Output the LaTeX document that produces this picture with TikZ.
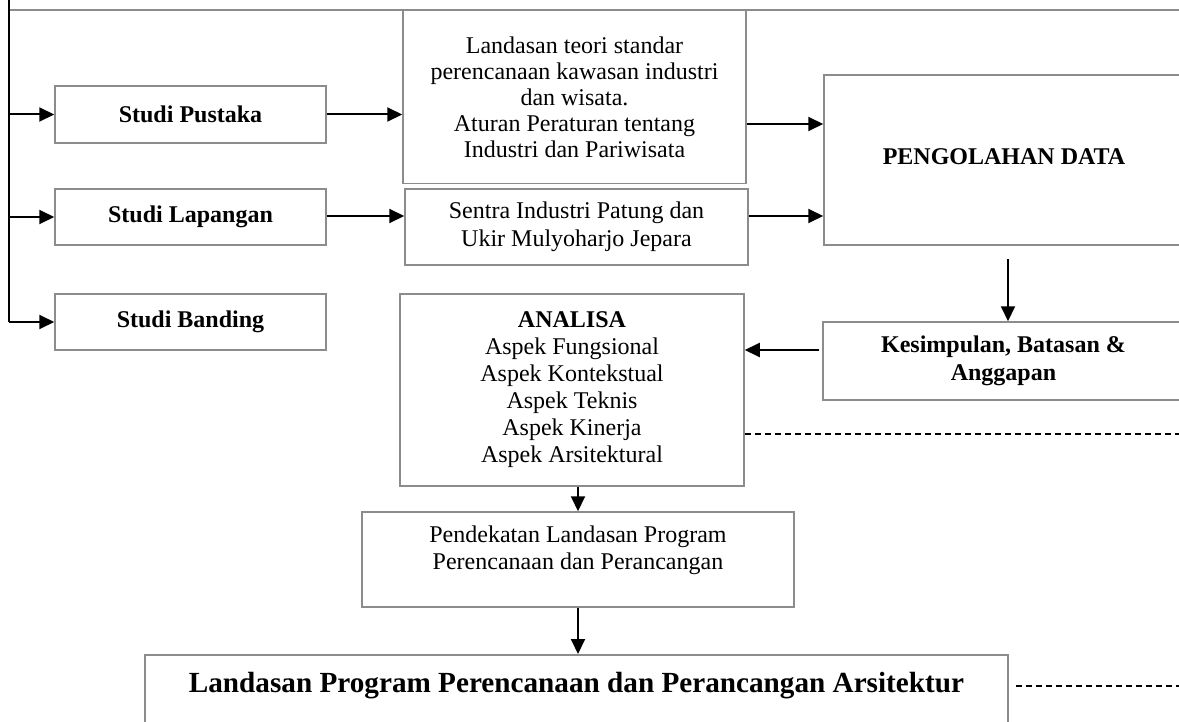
\documentclass[tikz,border=0pt]{standalone}
\usepackage{fontspec}
\setmainfont{Liberation Serif}
\usetikzlibrary{arrows.meta}
\definecolor{boxgray}{gray}{0.55}

\begin{document}
\begin{tikzpicture}[x=0.5pt, y=-0.5pt,
  box/.style={draw=boxgray, line width=0.75pt, align=center, inner sep=2pt,
    font=\fontsize{12}{13.5}\selectfont},
  boldbox/.style={box, font=\fontsize{12}{13.8}\selectfont\bfseries},
  flow/.style={-{Triangle[length=7.5pt,width=7pt]}, line width=1pt},
  guide/.style={dash pattern=on 3pt off 2pt, line width=0.6pt}]
% page frame
\useasboundingbox (0,0) rectangle (1179,722);
\clip (0,0) rectangle (1179,722);
% helper levels for the arrows
\coordinate (bustop) at (9,0);
\coordinate (rimleft) at (9,10);
\coordinate (edge) at (1179,10);
\coordinate (rowteori) at (0,124);
\coordinate (rowsentra) at (0,216);
\coordinate (rowsimpul) at (0,350);
\coordinate (rowdash) at (0,434);
\coordinate (olahout) at (1008,259);
\coordinate (progtail) at (1016,686);
% top rim
\draw[draw=boxgray, line width=0.75pt] (rimleft) -- (edge);
% studies on the left
\node[boldbox, minimum width=135.5pt, minimum height=28.5pt] (pustaka) at (190.5,114.5) {Studi Pustaka};
\node[boldbox, minimum width=135.5pt, minimum height=28pt] (lapangan) at (190.5,217) {Studi Lapangan};
\node[boldbox, minimum width=135.5pt, minimum height=28pt] (banding) at (190.5,322) {Studi Banding};
% sources in the middle
\node[box, font=\fontsize{12}{13}\selectfont, minimum width=171.5pt, minimum height=86.5pt] (teori) at (574.5,97)
  {Landasan teori standar\\perencanaan kawasan industri\\dan wisata.\\Aturan Peraturan tentang\\Industri dan Pariwisata};
\node[box, font=\fontsize{12}{14}\selectfont, minimum width=171.5pt, minimum height=38pt] (sentra) at (576.5,227)
  {Sentra Industri Patung dan\\Ukir Mulyoharjo Jepara};
% processing on the right
\node[boldbox, minimum width=180pt, minimum height=85pt, text depth=3pt] (olah) at (1004,160) {PENGOLAHAN DATA};
\node[boldbox, minimum width=180.5pt, minimum height=39pt] (simpul) at (1003.5,361) {Kesimpulan, Batasan \&\\Anggapan};
% analysis and results
\node[box, minimum width=172pt, minimum height=96pt] (analisa) at (572,390)
  {\textbf{ANALISA}\\Aspek Fungsional\\Aspek Kontekstual\\Aspek Teknis\\Aspek Kinerja\\Aspek Arsitektural};
\node[box, font=\fontsize{12}{13.8}\selectfont, minimum width=216pt, minimum height=47.5pt, text depth=12pt] (dekat) at (578,559.5)
  {Pendekatan Landasan Program\\Perencanaan dan Perancangan};
\node[boldbox, font=\fontsize{14.6}{16}\selectfont\bfseries, anchor=north, minimum width=431.5pt, minimum height=50pt,
  text height=10pt, text depth=22.5pt] (prog) at (576.5,654) {Landasan Program Perencanaan dan Perancangan Arsitektur};
% branching bus
\draw[line width=1pt] (bustop) -- (bustop |- banding);
\draw[flow] (bustop |- pustaka) -- (pustaka);
\draw[flow] (bustop |- lapangan) -- (lapangan);
\draw[flow] (bustop |- banding) -- (banding);
% flow between boxes
\draw[flow] (pustaka) -- (teori.west |- pustaka);
\draw[flow] (lapangan.east |- rowsentra) -- (sentra.west |- rowsentra);
\draw[flow] (teori.east |- rowteori) -- (olah.west |- rowteori);
\draw[flow] (sentra.east |- rowsentra) -- (olah.west |- rowsentra);
\draw[flow] (olahout) -- (olahout |- simpul.north);
\draw[flow] ([xshift=-1.5pt]simpul.west |- rowsimpul) -- (analisa.east |- rowsimpul);
\draw[flow] (dekat.north |- analisa.south) -- (dekat.north);
\draw[flow] (dekat.south) -- (dekat.south |- prog.north);
% dashed leaders to the right
\draw[guide] (analisa.east |- rowdash) -- (edge |- rowdash);
\draw[guide] (progtail) -- (edge |- progtail);
\end{tikzpicture}
\end{document}
